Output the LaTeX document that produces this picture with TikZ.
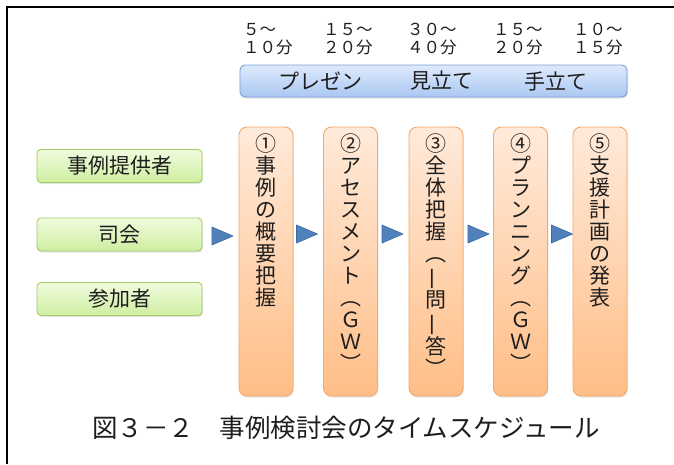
\documentclass[tikz,border=0pt]{standalone}
\usepackage{fontspec}
\usepackage{graphicx}
\setmainfont{Noto Sans CJK JP}
\usetikzlibrary{shadows}
\definecolor{gtop}{RGB}{241,251,222}
\definecolor{gbot}{RGB}{206,238,160}
\definecolor{gline}{RGB}{162,206,104}
\definecolor{otop}{RGB}{255,234,218}
\definecolor{obot}{RGB}{255,190,135}
\definecolor{oline}{RGB}{246,168,104}
\definecolor{btop}{RGB}{222,234,252}
\definecolor{bbot}{RGB}{170,199,242}
\definecolor{bline}{RGB}{120,160,215}
\definecolor{tfill}{RGB}{79,129,189}
\definecolor{tline}{RGB}{62,104,160}
\definecolor{ink}{RGB}{30,30,30}
\newcommand{\vone}{\rotatebox[origin=c]{90}{一}}
\begin{document}
\begin{tikzpicture}[x=1pt,y=-1pt,
  every node/.style={inner sep=0pt,outer sep=0pt,text=ink},
  softshadow/.style={drop shadow={opacity=0.22,shadow xshift=0.8pt,shadow yshift=-1.5pt}},
  greenbox/.style={draw=gline,line width=0.9pt,rounded corners=4pt,top color=gtop,bottom color=gbot,
    minimum width=165pt,minimum height=33pt,softshadow},
  orangebox/.style={draw=oline,line width=0.9pt,rounded corners=8pt,top color=otop,bottom color=obot,
    minimum width=54pt,minimum height=269pt,softshadow},
  bluebar/.style={draw=bline,line width=0.9pt,rounded corners=5pt,top color=btop,bottom color=bbot,
    minimum width=387pt,minimum height=32pt,softshadow},
  tri/.style={fill=tfill,draw=tline,line width=0.6pt,line join=round},
  bigtext/.style={font=\fontsize{21}{24}\selectfont},
  vtext/.style={anchor=north,align=center,font=\fontsize{21}{22}\selectfont},
  timetext/.style={anchor=west,align=left,font=\fontsize{16.5}{18}\selectfont},
]
\useasboundingbox (0,0) rectangle (674,464);
\fill[white] (0,0) rectangle (674,464);
\draw[line width=2pt,black] (7,464) -- (7,7) -- (674,7);

% time labels
\node[timetext] (t1) at (243,39) {５～\\１０分};
\node[timetext] (t2) at (323,39) {１５～\\２０分};
\node[timetext] (t3) at (407,39) {３０～\\４０分};
\node[timetext] (t4) at (493,39) {１５～\\２０分};
\node[timetext] (t5) at (573,39) {１０～\\１５分};

% blue bar
\node[bluebar] (bar) at (433.5,81) {};
\node[bigtext] (bp) at (320,81) {プレゼン};
\node[bigtext] (bm) at (442,81) {見立て};
\node[bigtext] (bt) at (556,81) {手立て};

% green boxes
\node[greenbox,bigtext] (g1) at (119.5,166) {事例提供者};
\node[greenbox,bigtext] (g2) at (119.5,234.5) {司会};
\node[greenbox,bigtext] (g3) at (119.5,299) {参加者};

% orange boxes
\node[orangebox] (s1) at (266,261.5) {};
\node[orangebox] (s2) at (350.5,261.5) {};
\node[orangebox] (s3) at (436,261.5) {};
\node[orangebox] (s4) at (520.5,261.5) {};
\node[orangebox] (s5) at (600,261.5) {};
\node[vtext] (v1) at ([yshift=-7pt]s1.north) {①\\事\\例\\の\\概\\要\\把\\握};
\node[vtext] (v2) at ([yshift=-7pt]s2.north) {②\\ア\\セ\\ス\\メ\\ン\\ト\\︵\\Ｇ\\Ｗ\\︶};
\node[vtext] (v3) at ([yshift=-7pt]s3.north) {③\\全\\体\\把\\握\\︵\\\vone\\問\\\vone\\答\\︶};
\node[vtext] (v4) at ([yshift=-7pt]s4.north) {④\\プ\\ラ\\ン\\ニ\\ン\\グ\\︵\\Ｇ\\Ｗ\\︶};
\node[vtext] (v5) at ([yshift=-7pt]s5.north) {⑤\\支\\援\\計\\画\\の\\発\\表};

% arrow triangles
\coordinate (a1) at (222.5,236);
\coordinate (a2) at (307,234);
\coordinate (a3) at (392.5,234);
\coordinate (a4) at (478.5,234);
\coordinate (a5) at (562,234);
\foreach \a in {a1,a2,a3,a4,a5}{
  \draw[tri] ([shift={(-10.5,-9)}]\a) -- ([shift={(10.5,0)}]\a) -- ([shift={(-10.5,9)}]\a) -- cycle;
}

% caption
\node[anchor=west,font=\fontsize{25.5}{28}\selectfont] (cap) at (92,428) {図３－２　事例検討会のタイムスケジュール};
\end{tikzpicture}
\end{document}
